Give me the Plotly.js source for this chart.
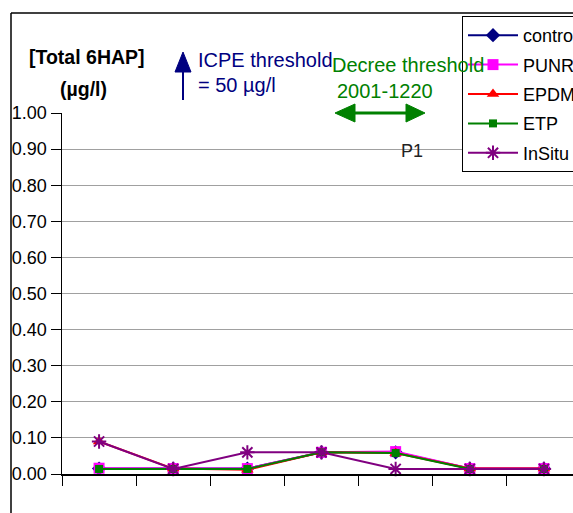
<!DOCTYPE html>
<html>
<head>
<meta charset="utf-8">
<script src="https://cdn.plot.ly/plotly-3.0.1.min.js"></script>
<style>
html,body{margin:0;padding:0;overflow:hidden;background:#fff;}
#chart{width:600px;height:513px;}
</style>
</head>
<body>
<div id="chart"></div>
<script>
// ---- data ----
var categories = ['1', '2', '3', '4', '5', '6', '7'];
var seriesNames = ['control', 'PUNR', 'EPDM', 'ETP', 'InSitu'];
var control = [0.015, 0.015, 0.015, 0.060, 0.060, 0.015, 0.015];
var PUNR    = [0.016, 0.015, 0.015, 0.060, 0.062, 0.015, 0.015];
var EPDM    = [0.090, 0.015, 0.012, 0.060, 0.058, 0.015, 0.015];
var ETP     = [0.014, 0.014, 0.014, 0.060, 0.058, 0.014, 0.014];
var InSitu  = [0.090, 0.014, 0.060, 0.060, 0.014, 0.014, 0.014];
var yTickVals = [0, 0.1, 0.2, 0.3, 0.4, 0.5, 0.6, 0.7, 0.8, 0.9, 1.0];

// ---- geometry helpers (plot area in pixels) ----
var W = 600, H = 513;
var L = 62, R = 581, T = 113, B = 474;
function px(x){ return (x - L) / (R - L); }
function py(y){ return (B - y) / (B - T); }

var styles = [
  {color:'#000080', symbol:'diamond', size:11},
  {color:'#FF00FF', symbol:'square', size:11},
  {color:'#FF0000', symbol:'triangle-up', size:11},
  {color:'#008000', symbol:'square', size:8},
  {color:'#800080', symbol:'asterisk-open', size:12}
];
var allSeries = [control, PUNR, EPDM, ETP, InSitu];

var traces = allSeries.map(function(vals, i){
  var s = styles[i];
  var marker = {symbol:s.symbol, size:s.size, color:s.color};
  if (s.symbol === 'asterisk-open') marker.line = {color:s.color, width:2};
  return {
    type:'scatter', mode:'lines+markers',
    name: seriesNames[i], legendgroup: 'g' + i,
    x: categories, y: vals,
    line:{color:s.color, width:2},
    marker: marker,
    cliponaxis:false
  };
});

var font = 'Liberation Sans, Arial, sans-serif';

function tri(a, b, c){
  return 'M' + px(a[0]) + ',' + py(a[1]) + ' L' + px(b[0]) + ',' + py(b[1]) +
         ' L' + px(c[0]) + ',' + py(c[1]) + ' Z';
}

var shapes = [
  // outer frame (left and top)
  {type:'line', xref:'paper', yref:'paper', x0:px(11), x1:px(11), y0:py(13), y1:py(513), line:{color:'#000', width:1.5}, layer:'below'},
  {type:'line', xref:'paper', yref:'paper', x0:px(11), x1:px(600), y0:py(13), y1:py(13), line:{color:'#000', width:1.5}, layer:'below'},
  // ICPE arrow
  {type:'line', xref:'paper', yref:'paper', x0:px(183), x1:px(183), y0:py(100), y1:py(68), line:{color:'#000080', width:2}},
  {type:'path', xref:'paper', yref:'paper', path:tri([175,72],[191,72],[183,52]), fillcolor:'#000080', line:{color:'#000080', width:1}},
  // Decree double arrow
  {type:'line', xref:'paper', yref:'paper', x0:px(352), x1:px(408), y0:py(113), y1:py(113), line:{color:'#008000', width:3}},
  {type:'path', xref:'paper', yref:'paper', path:tri([335,113],[355,104],[355,122]), fillcolor:'#008000', line:{color:'#008000', width:1}},
  {type:'path', xref:'paper', yref:'paper', path:tri([425,113],[406,104],[406,122]), fillcolor:'#008000', line:{color:'#008000', width:1}}
];

function ann(text, x, y, opts){
  var a = {text:text, xref:'paper', yref:'paper', x:px(x), y:py(y), showarrow:false,
           xanchor:'center', yanchor:'middle', font:{family:font, size:20, color:'#000'}};
  for (var k in opts) a[k] = opts[k];
  return a;
}

var annotations = [
  ann('<b>[Total 6HAP]</b>', 87, 57, {font:{family:font, size:19.5, color:'#000'}}),
  ann('<b>(µg/l)</b>', 83, 89, {font:{family:font, size:19.5, color:'#000'}}),
  ann('ICPE threshold', 196, 60, {xanchor:'left', font:{family:font, size:20, color:'#000080'}}),
  ann('= 50 µg/l', 196, 85, {xanchor:'left', font:{family:font, size:20, color:'#000080'}}),
  ann('Decree threshold', 408, 65, {font:{family:font, size:20, color:'#008000'}}),
  ann('2001-1220', 385, 91, {font:{family:font, size:20, color:'#008000'}}),
  ann('P1', 412, 151, {font:{family:font, size:18, color:'#222'}})
];

var layout = {
  width: W, height: H,
  margin:{l:L, r:W - R, t:T, b:H - B, pad:0},
  paper_bgcolor:'#fff', plot_bgcolor:'#fff',
  font:{family:font, size:18, color:'#000'},
  showlegend:true,
  legend:{
    x:px(462), y:py(16), xanchor:'left', yanchor:'top',
    bgcolor:'#fff', bordercolor:'#000', borderwidth:1,
    font:{family:font, size:18, color:'#000'},
    traceorder:'grouped', tracegroupgap:3, itemwidth:50
  },
  xaxis:{
    type:'category', range:[-0.5, 6.5], showticklabels:false,
    ticks:'outside', tickson:'boundaries', ticklen:10, tickcolor:'#000', tickwidth:1,
    showline:true, linecolor:'#000', linewidth:1.5, showgrid:false, zeroline:false,
    fixedrange:true
  },
  yaxis:{
    range:[0, 1], tickvals:yTickVals, tickformat:'.2f',
    ticks:'outside', ticklen:10, tickcolor:'#000', tickwidth:1,
    showline:true, linecolor:'#000', linewidth:1.5,
    showgrid:true, gridcolor:'#a0a0a0', gridwidth:1, zeroline:false,
    tickfont:{family:font, size:18, color:'#000'}, fixedrange:true
  },
  shapes: shapes,
  annotations: annotations
};

Plotly.newPlot('chart', traces, layout, {displayModeBar:false, staticPlot:true});
</script>
</body>
</html>
